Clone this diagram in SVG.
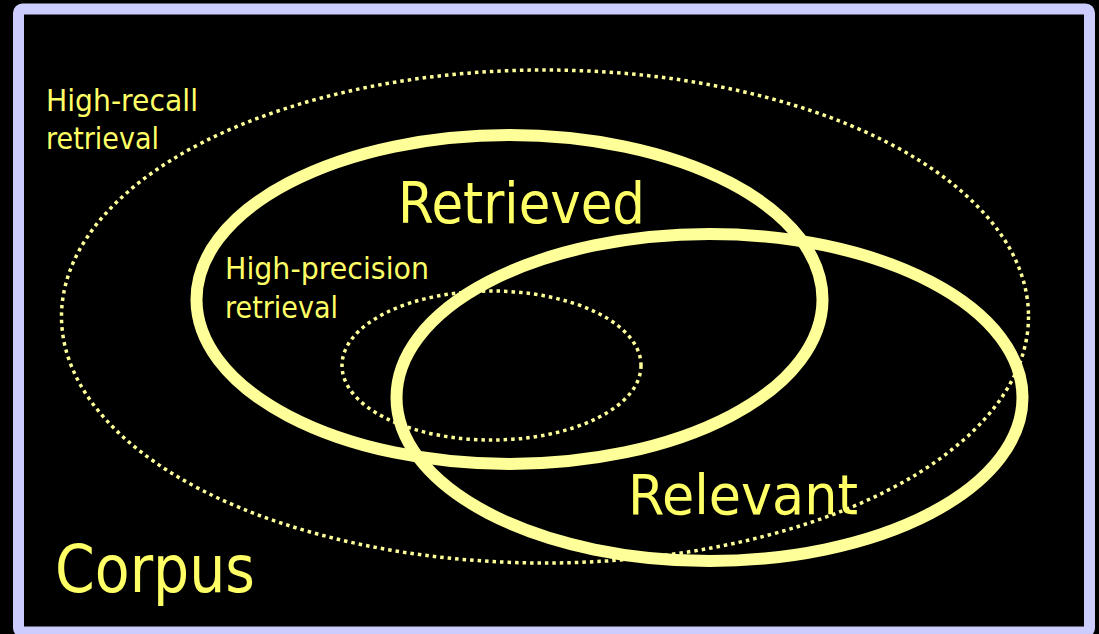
<svg xmlns="http://www.w3.org/2000/svg" width="1099" height="634" viewBox="0 0 1099 634">
<style>
.thick{fill:none;stroke:#FFFF99;stroke-width:12}
.dot{fill:none;stroke:#FFFF99;stroke-width:3.5;stroke-dasharray:3.5 4}
.t{fill:#FFFF66;font-family:"DejaVu Sans","Liberation Sans",sans-serif}
</style>
<rect x="0" y="0" width="1099" height="634" fill="#000"/>
<rect x="18.5" y="9" width="1071" height="623" rx="4" fill="#000" stroke="#CCCCFF" stroke-width="11"/>
<g id="high-recall">
<ellipse class="dot" cx="545" cy="316.5" rx="483.5" ry="246.5"/>
<text class="t" x="46" y="111" font-size="30" textLength="152" lengthAdjust="spacingAndGlyphs">High-recall</text>
<text class="t" x="46" y="149" font-size="30" textLength="113" lengthAdjust="spacingAndGlyphs">retrieval</text>
</g>
<g id="retrieved">
<ellipse class="thick" cx="509.5" cy="299.5" rx="313" ry="164.5"/>
<text class="t" x="398" y="223" font-size="57" textLength="247" lengthAdjust="spacingAndGlyphs">Retrieved</text>
</g>
<g id="high-precision">
<ellipse class="dot" cx="491.5" cy="365.5" rx="149.5" ry="74.5"/>
<text class="t" x="225" y="279" font-size="30" textLength="204" lengthAdjust="spacingAndGlyphs">High-precision</text>
<text class="t" x="225" y="318" font-size="30" textLength="113" lengthAdjust="spacingAndGlyphs">retrieval</text>
</g>
<g id="relevant">
<ellipse class="thick" cx="709.5" cy="397.5" rx="313" ry="163.5"/>
<text class="t" x="628" y="514" font-size="55" textLength="230" lengthAdjust="spacingAndGlyphs">Relevant</text>
</g>
<g id="corpus">
<text class="t" x="55" y="592" font-size="66" textLength="200" lengthAdjust="spacingAndGlyphs">Corpus</text>
</g>
<g id="connectors"/>
</svg>
